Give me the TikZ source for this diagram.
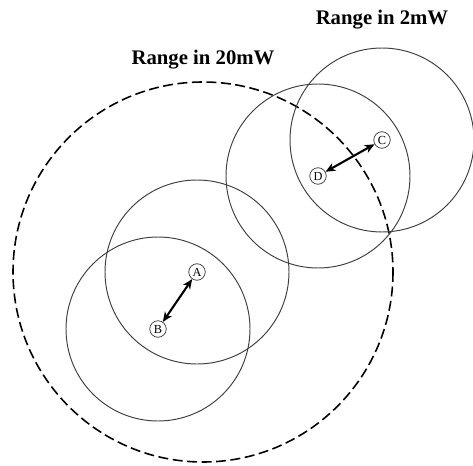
\documentclass[tikz,border=0pt]{standalone}
\usepackage{fontspec}
\setmainfont{Liberation Serif}
\usetikzlibrary{arrows.meta, positioning}

\begin{document}
\begin{tikzpicture}[x=0.02cm, y=-0.02cm,
            station/.style={draw=black!80, circle, line width=0.4pt, minimum size=0.33cm, inner sep=0pt, font=\scriptsize},
            coverage/.style={draw=black!75, line width=0.55pt},
            bigcoverage/.style={draw=black, line width=0.9pt, dash pattern=on 0.2cm off 0.09cm},
            link/.style={{Stealth[length=0.2cm, width=0.17cm]}-{Stealth[length=0.2cm, width=0.17cm]}, line width=1.2pt},
            caption/.style={font=\bfseries\fontsize{11.8}{14}\selectfont}
        ]
            \useasboundingbox (0,0) rectangle (473,466);

            % stations
            \node[station] (A) at (197,272) {A};
            \node[station] (B) at (158,329) {B};
            \node[station] (D) at (318,176) {D};
            \node[station] (C) at (382,140) {C};

            % ranges
            \draw[bigcoverage] (203,272) circle[radius=190];
            \draw[coverage] (A) circle[radius=92];
            \draw[coverage] (B) circle[radius=92];
            \draw[coverage] (D) circle[radius=92];
            \draw[coverage] (C) circle[radius=92];

            \draw[link] (A) -- (B);
            \draw[link] (D) -- (C);

            \node[caption] (big) at (203,60) {Range in 20mW};
            \node[caption] (small) at (382,20) {Range in 2mW};
        \end{tikzpicture}
\end{document}
